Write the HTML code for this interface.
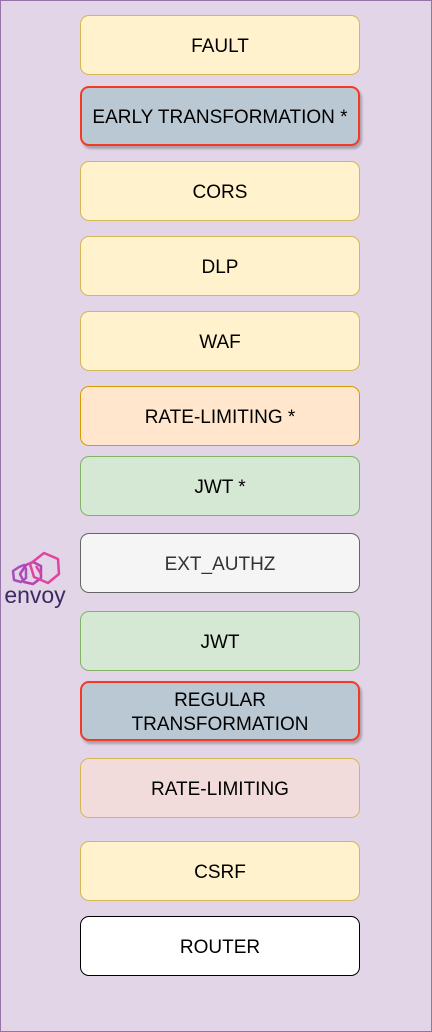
<!DOCTYPE html>
<html><head><style>
body{margin:0;width:432px;height:1032px;overflow:hidden;background:#fff;}
.frame{position:absolute;left:0;top:0;width:430px;height:1030px;background:#e1d5e7;border:1px solid #9673a6;}
.b{position:absolute;left:80px;width:278px;height:58px;border:1px solid #d6b656;background:#fff2cc;border-radius:9px;display:flex;align-items:center;justify-content:center;text-align:center;font-family:"Liberation Sans",sans-serif;font-size:19px;color:#000;line-height:24px;box-sizing:border-box;height:60px;width:280px;padding-top:3px;white-space:nowrap;}
.red{background:#bac8d3;border:2px solid #f23a25;box-shadow:2px 3px 2px rgba(0,0,0,0.25);}
</style></head><body>
<div class="frame"></div>
<div class="b" style="top:15px">FAULT</div>
<div class="b red" style="top:86px">EARLY TRANSFORMATION *</div>
<div class="b" style="top:161px">CORS</div>
<div class="b" style="top:236px">DLP</div>
<div class="b" style="top:311px">WAF</div>
<div class="b" style="top:386px;background:#ffe6cc;border-color:#d79b00">RATE-LIMITING *</div>
<div class="b" style="top:456px;background:#d5e8d4;border-color:#82b366">JWT *</div>
<div class="b" style="top:533px;background:#f5f5f5;border-color:#666;color:#333">EXT_AUTHZ</div>
<div class="b" style="top:611px;background:#d5e8d4;border-color:#82b366">JWT</div>
<div class="b red" style="top:681px">REGULAR<br>TRANSFORMATION</div>
<div class="b" style="top:758px;background:#f2dcdb;border-color:#d6b656">RATE-LIMITING</div>
<div class="b" style="top:841px">CSRF</div>
<div class="b" style="top:916px;background:#fff;border-color:#000">ROUTER</div>
<svg style="position:absolute;left:0;top:540px" width="70" height="70" viewBox="0 0 70 70">
<g fill="none" stroke-width="2.5" stroke-linejoin="round">
<polygon points="19,27 24,25 26,29 26,38 21,42 14,40 13,31" stroke="#a550b8"/>
<polygon points="26,25 33,22 41,26 41,38 33,44 24,42 20,34" stroke="#b444b4"/>
<polygon points="44,13 58,19 59,34 48,43 34,37 30,24" stroke="#e0449c"/>
<line x1="36" y1="26" x2="41" y2="34" stroke="#e0449c"/>
</g>
<text x="35" y="63" text-anchor="middle" font-family="Liberation Sans,sans-serif" font-size="23" fill="#3d2a62">envoy</text>
</svg>
</body></html>
